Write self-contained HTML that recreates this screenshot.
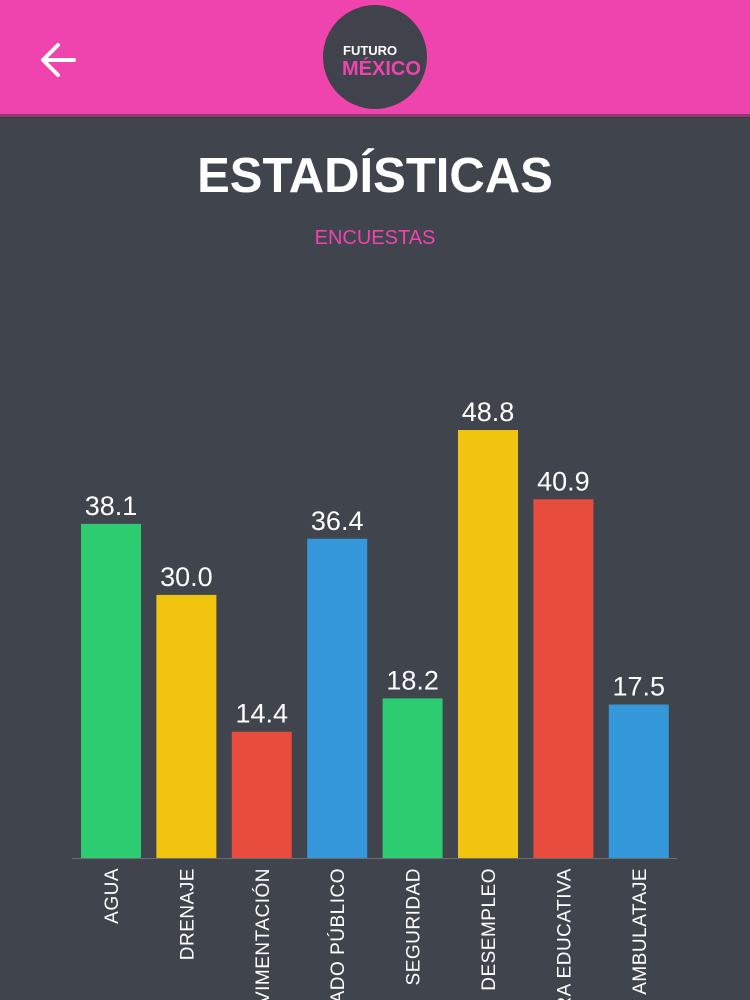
<!DOCTYPE html>
<html><head><meta charset="utf-8"><style>
html,body{margin:0;padding:0;width:750px;height:1000px;overflow:hidden;background:#40444d;font-family:"Liberation Sans",sans-serif}
svg{display:block}
</style></head><body>
<svg width="750" height="1000">
<defs><clipPath id="clip"><rect x="0" y="0" width="750" height="1000"/></clipPath></defs>
<rect x="0" y="0" width="750" height="117" fill="#ef43ad"/>
<rect x="0" y="114" width="750" height="4" fill="#2f3238" opacity="0.5"/>
<g>
<path d="M74 60 H44 M58 45 L43 60 L58 75" stroke="#fff" stroke-width="4" fill="none" stroke-linecap="round" stroke-linejoin="round"/>
</g>
<g>
<circle cx="375" cy="57" r="52" fill="#40434b"/>
<text x="343" y="55" fill="#fff" font-size="13" font-weight="bold">FUTURO</text>
<text x="342" y="75" fill="#ef43ad" font-size="20" font-weight="bold">MÉXICO</text>
</g>
<text x="375" y="192" text-anchor="middle" fill="#fff" font-size="49" font-weight="bold">ESTADÍSTICAS</text>
<text x="375" y="244" text-anchor="middle" fill="#ef43ad" font-size="20">ENCUESTAS</text>
<g id="chart" clip-path="url(#clip)"></g>
</svg>
<script>
const categories=["AGUA","DRENAJE","PAVIMENTACIÓN","ALUMBRADO PÚBLICO","SEGURIDAD","DESEMPLEO","INFRAESTRUCTURA EDUCATIVA","AMBULATAJE"];
const values=[38.1,30.0,14.4,36.4,18.2,48.8,40.9,17.5];
const valueLabels=["38.1","30.0","14.4","36.4","18.2","48.8","40.9","17.5"];
const colors=["#2ecc71","#f1c40f","#e74c3c","#3498db","#2ecc71","#f1c40f","#e74c3c","#3498db"];
const NS="http://www.w3.org/2000/svg";
const g=document.getElementById('chart');
const baseY=858,pxPerUnit=8.77,x0=81,step=75.4,bw=60;
const yScale=v=>baseY-v*pxPerUnit;
const xScale=i=>x0+i*step;
function mk(t,a){const e=document.createElementNS(NS,t);for(const k in a)e.setAttribute(k,a[k]);g.appendChild(e);return e;}
values.forEach((v,i)=>{
 const x=xScale(i),y=yScale(v);
 const r=mk('rect',{x:x,y:y,width:bw,height:baseY-y,fill:colors[i]});
 
 
 const t=mk('text',{x:x+bw/2,y:y-9,'text-anchor':'middle',fill:'#fff','font-size':'27'});
 t.textContent=valueLabels[i];
 
 
 const cx=x+bw/2+7,cy=868;
 const l=mk('text',{x:cx,y:cy,'text-anchor':'end',fill:'#fff','font-size':'19','letter-spacing':'0.5',transform:'rotate(-90 '+cx+' '+cy+')'});
 l.textContent=categories[i];
 
 
});
const ax=mk('line',{x1:72,x2:677,y1:baseY+0.5,y2:baseY+0.5,stroke:'#6a6e76','stroke-width':1});


</script>
</body></html>
